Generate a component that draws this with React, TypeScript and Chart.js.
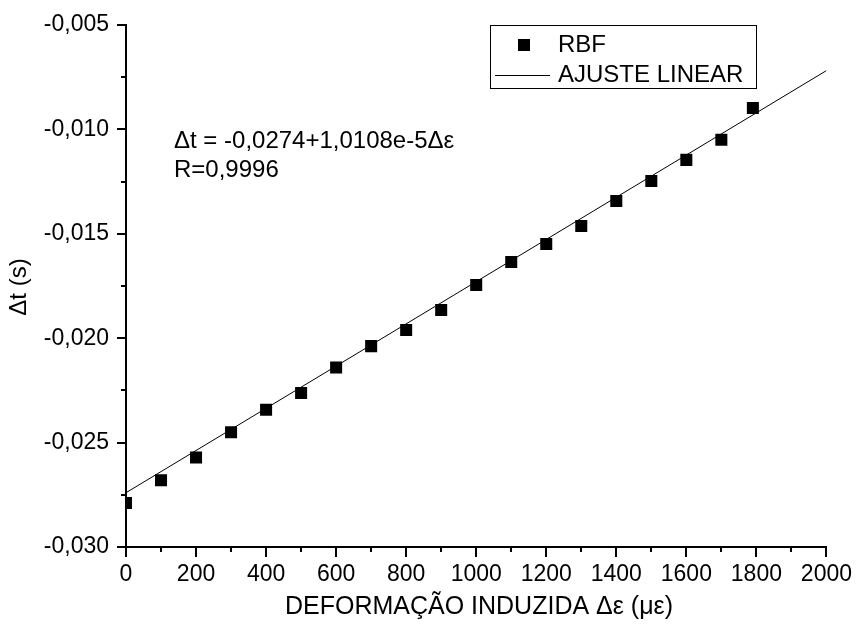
import React, { useEffect, useRef } from "react";
import { Chart, registerables } from "chart.js";

Chart.register(...registerables);

const strainX = [0, 100, 200, 300, 400, 500, 600, 700, 800, 900, 1000, 1100, 1200, 1300, 1400, 1500, 1600, 1700, 1790];
const deltaT = [-0.02789, -0.0268, -0.02571, -0.0245, -0.02343, -0.02262, -0.0214, -0.02038, -0.01961, -0.01865, -0.01745, -0.01635, -0.01549, -0.01463, -0.01343, -0.01247, -0.01146, -0.0105, -0.00898];
const fitX = [0, 2000];
const fitY = [-0.0274, -0.007184];
const xMinorTicks = [100, 300, 500, 700, 900, 1100, 1300, 1500, 1700, 1900];
const yMinorTicks = [-0.0275, -0.0225, -0.0175, -0.0125, -0.0075];

const FONT = "'Liberation Sans', Arial, sans-serif";

const overlay = {
  id: "overlay",
  afterDraw(chart: any) {
    const ctx = chart.ctx;
    const xs = chart.scales.x;
    const ys = chart.scales.y;
    ctx.save();
    ctx.strokeStyle = "#000";
    ctx.lineWidth = 2;
    // minor ticks
    ctx.beginPath();
    for (const v of xMinorTicks) {
      const px = Math.round(xs.getPixelForValue(v));
      ctx.moveTo(px, ys.bottom);
      ctx.lineTo(px, ys.bottom + 5);
    }
    for (const v of yMinorTicks) {
      const py = Math.round(ys.getPixelForValue(v));
      ctx.moveTo(xs.left, py);
      ctx.lineTo(xs.left - 5, py);
    }
    ctx.stroke();

    ctx.fillStyle = "#000";
    ctx.font = `24px ${FONT}`;
    ctx.textBaseline = "alphabetic";
    ctx.textAlign = "left";
    ctx.fillText("\u0394t = -0,0274+1,0108e-5\u0394\u03b5", 174, 148);
    ctx.fillText("R=0,9996", 174, 177);

    // axis titles
    ctx.textAlign = "center";
    ctx.textBaseline = "middle";
    ctx.font = `25px ${FONT}`;
    ctx.fillText("DEFORMA\u00c7\u00c3O INDUZIDA \u0394\u03b5 (\u03bc\u03b5)", 479, 607);
    ctx.save();
    ctx.translate(19, 287);
    ctx.rotate(-Math.PI / 2);
    ctx.font = `24px ${FONT}`;
    ctx.fillText("\u0394t (s)", 0, 0);
    ctx.restore();

    // legend
    ctx.lineWidth = 1;
    ctx.strokeRect(490.5, 25.5, 266, 63);
    ctx.fillRect(518, 39, 12, 12);
    ctx.beginPath();
    ctx.moveTo(495, 75.5);
    ctx.lineTo(550, 75.5);
    ctx.stroke();
    ctx.textAlign = "left";
    ctx.font = `24px ${FONT}`;
    ctx.fillText("RBF", 558, 45);
    ctx.fillText("AJUSTE LINEAR", 558, 75);
    ctx.restore();
  },
};

export default function App() {
  const ref = useRef<HTMLCanvasElement>(null);
  useEffect(() => {
    document.body.style.margin = "0";
    const chart = new Chart(ref.current!, {
      type: "scatter",
      data: {
        datasets: [
          {
            label: "RBF",
            data: strainX.map((x, i) => ({ x, y: deltaT[i] })),
            pointStyle: "rect",
            pointRadius: 8.5,
            backgroundColor: "#000",
            borderColor: "#000",
            borderWidth: 0,
            clip: 0,
          } as any,
          {
            type: "line",
            label: "AJUSTE LINEAR",
            data: fitX.map((x, i) => ({ x, y: fitY[i] })),
            borderColor: "#000",
            borderWidth: 1,
            pointRadius: 0,
            showLine: true,
            fill: false,
            clip: 0,
          } as any,
        ],
      },
      options: {
        animation: false,
        responsive: false,
        events: [],
        layout: { padding: { top: 25, right: 29, left: 0, bottom: 0 } },
        plugins: { legend: { display: false }, tooltip: { enabled: false } },
        scales: {
          x: {
            type: "linear",
            min: 0,
            max: 2000,
            border: { display: true, color: "#000", width: 2 },
            grid: { drawOnChartArea: false, drawTicks: true, tickLength: 10, color: "#000", lineWidth: 2 },
            ticks: {
              stepSize: 200,
              color: "#000",
              font: { family: FONT, size: 23 },
              padding: 4,
              maxRotation: 0,
              callback: (v: any) => String(v),
            },
            afterFit: (s: any) => {
              s.height = 81;
            },
          },
          y: {
            type: "linear",
            min: -0.03,
            max: -0.005,
            border: { display: true, color: "#000", width: 2 },
            grid: { drawOnChartArea: false, drawTicks: true, tickLength: 9, color: "#000", lineWidth: 2 },
            ticks: {
              stepSize: 0.005,
              color: "#000",
              font: { family: FONT, size: 23 },
              padding: 8,
              callback: (v: any) => Number(v).toFixed(3).replace(".", ","),
            },
            afterFit: (s: any) => {
              s.width = 126;
            },
          },
        },
      },
      plugins: [overlay],
    });
    return () => chart.destroy();
  }, []);
  return (
    <div style={{ position: "fixed", left: 0, top: 0, width: 856, height: 628, background: "#fff" }}>
      <canvas ref={ref} width={856} height={628} style={{ width: 856, height: 628 }} />
    </div>
  );
}
